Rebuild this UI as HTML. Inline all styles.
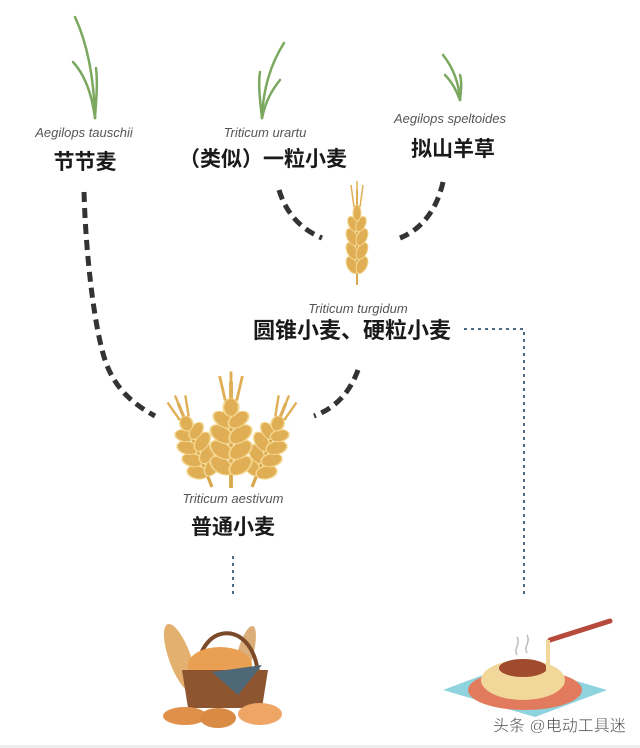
<!DOCTYPE html>
<html><head><meta charset="utf-8"><style>
html,body{margin:0;padding:0;background:#fff;}
svg{display:block}
.it{font-family:"Liberation Sans",sans-serif;font-style:italic;fill:#555;font-size:13px;text-anchor:middle}
.cn{font-family:"Liberation Sans","Noto Sans CJK SC",sans-serif;font-weight:bold;fill:#1a1a1a;text-anchor:middle}
</style></head><body>
<svg width="640" height="748" viewBox="0 0 640 748" xmlns="http://www.w3.org/2000/svg">
<defs>
<g id="ear">
 <line x1="0" y1="0" x2="0" y2="-95" stroke="#d9a84c" stroke-width="2"/>
 <g fill="#e0ae55" stroke="#f3d68e" stroke-width="1">
  <ellipse cx="-5" cy="-20" rx="5" ry="9" transform="rotate(-25 -5 -20)"/>
  <ellipse cx="5" cy="-20" rx="5" ry="9" transform="rotate(25 5 -20)"/>
  <ellipse cx="-5" cy="-34" rx="5" ry="9" transform="rotate(-25 -5 -34)"/>
  <ellipse cx="5" cy="-34" rx="5" ry="9" transform="rotate(25 5 -34)"/>
  <ellipse cx="-5" cy="-48" rx="5" ry="9" transform="rotate(-25 -5 -48)"/>
  <ellipse cx="5" cy="-48" rx="5" ry="9" transform="rotate(25 5 -48)"/>
  <ellipse cx="-4" cy="-61" rx="4.5" ry="8" transform="rotate(-25 -4 -61)"/>
  <ellipse cx="4" cy="-61" rx="4.5" ry="8" transform="rotate(25 4 -61)"/>
  <ellipse cx="0" cy="-72" rx="4" ry="8"/>
 </g>
 <path d="M-3,-78 L-6,-100 M3,-78 L6,-100 M0,-80 L0,-104" stroke="#e0ae55" stroke-width="1.5" fill="none"/>
</g>
</defs>
<g fill="none" stroke="#7aa85e" stroke-width="2.5" stroke-linecap="round">
 <path d="M95,118 C94,80 88,45 75,17"/>
 <path d="M95,118 C92,95 85,75 73,62"/>
 <path d="M95,118 C96,100 98,85 96,68"/>
 <path d="M262,118 C263,90 270,65 284,43"/>
 <path d="M262,118 C260,100 258,85 260,72"/>
 <path d="M262,118 C266,100 272,90 280,80"/>
 <path d="M460,100 C459,85 455,70 443,55"/>
 <path d="M460,100 C456,90 452,82 445,75"/>
 <path d="M460,100 C461,90 462,82 460,75"/>
</g>
<text class="it" x="84" y="137">Aegilops tauschii</text>
<text class="cn" x="85" y="169" font-size="21">节节麦</text>
<text class="it" x="265" y="137">Triticum urartu</text>
<text class="cn" x="263" y="166" font-size="21">（类似）一粒小麦</text>
<text class="it" x="450" y="123">Aegilops speltoides</text>
<text class="cn" x="453" y="156" font-size="21">拟山羊草</text>
<g fill="none" stroke="#333" stroke-width="5" stroke-dasharray="10,6">
 <path d="M279,190 C285,210 298,228 322,238"/>
 <path d="M443,182 C438,205 425,228 400,238"/>
 <path d="M84,192 C86,260 95,330 105,360 C115,390 135,405 155,416"/>
 <path d="M358,370 C350,392 336,408 314,416"/>
</g>
<g transform="translate(357,285)"><use href="#ear"/></g>
<text class="it" x="358" y="313">Triticum turgidum</text>
<text class="cn" x="352" y="338" font-size="22">圆锥小麦、硬粒小麦</text>
<path d="M464,329 H524 V594" fill="none" stroke="#4d6a85" stroke-width="2" stroke-dasharray="3,4"/>
<g>
 <g transform="translate(212,487) rotate(-22) scale(1.6,0.95)"><use href="#ear"/></g>
 <g transform="translate(252,487) rotate(22) scale(1.6,0.95)"><use href="#ear"/></g>
 <g transform="translate(231,488) scale(1.9,1.12)"><use href="#ear"/></g>
</g>
<text class="it" x="233" y="503">Triticum aestivum</text>
<text class="cn" x="233" y="534" font-size="21">普通小麦</text>
<path d="M233,605 V594" fill="none"/>
<path d="M233,556 V594" fill="none" stroke="#4d6a85" stroke-width="2" stroke-dasharray="3,4"/>
<!-- bread basket -->
<g>
 <ellipse cx="180" cy="658" rx="11" ry="36" fill="#e3b06f" transform="rotate(-20 180 658)"/>
 <ellipse cx="245" cy="655" rx="8" ry="30" fill="#dcae7a" transform="rotate(15 245 655)"/>
 <path d="M198,675 C196,625 250,615 258,672" fill="none" stroke="#7b4a2a" stroke-width="4"/>
 <ellipse cx="220" cy="665" rx="32" ry="18" fill="#e9a052"/>
 <path d="M182,670 H268 L262,708 H188 Z" fill="#8e5630"/>
 <path d="M212,672 L262,665 L238,695 Z" fill="#4e6878"/>
 <ellipse cx="185" cy="716" rx="22" ry="9" fill="#e0904a"/>
 <ellipse cx="218" cy="718" rx="18" ry="10" fill="#d98a45"/>
 <ellipse cx="260" cy="714" rx="22" ry="11" fill="#eea565"/>
</g>
<!-- pasta -->
<g>
 <path d="M443,690 L515,663 L607,690 L535,717 Z" fill="#8ed3de"/>
 <ellipse cx="525" cy="690" rx="57" ry="20" fill="#e27a5d"/>
 <ellipse cx="523" cy="680" rx="42" ry="20" fill="#f1d79a"/>
 <ellipse cx="523" cy="668" rx="24" ry="9" fill="#a04a2e"/>
 <path d="M550,640 L610,621" stroke="#b64b3b" stroke-width="5" stroke-linecap="round"/>
 <path d="M548,640 L548,670" stroke="#f1d79a" stroke-width="4"/>
 <path d="M517,655 C513,648 521,645 517,637 M527,653 C523,646 531,643 527,635" fill="none" stroke="#bbb" stroke-width="1.5"/>
</g>
<text x="493" y="731" font-family="Liberation Sans,'Noto Sans CJK SC',sans-serif" font-size="16" fill="#444" stroke="#fff" stroke-width="0.4">头条 @电动工具迷</text>
<rect x="0" y="745" width="640" height="3" fill="#ececec"/>
</svg>
</body></html>
